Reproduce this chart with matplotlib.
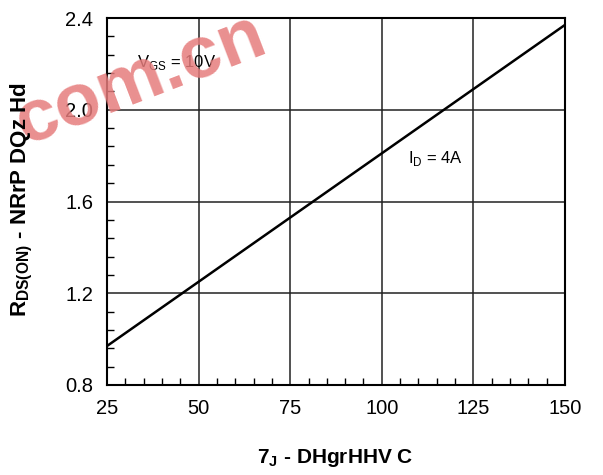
import matplotlib.pyplot as plt
from matplotlib.ticker import MultipleLocator

plt.rcParams['font.family'] = ['Liberation Sans', 'DejaVu Sans']

# data
temp_c = [25, 50, 75, 100, 125, 150]
rds_on = [0.97, 1.25, 1.53, 1.81, 2.09, 2.37]
x_ticks = [25, 50, 75, 100, 125, 150]
y_ticks = [0.8, 1.2, 1.6, 2.0, 2.4]

fig = plt.figure(figsize=(6.03, 4.75), dpi=100)
ax = fig.add_axes([107 / 603, 1 - 385 / 475, (565 - 107) / 603, (385 - 18) / 475])

ax.plot(temp_c, rds_on, color='black', lw=1.8, zorder=3)

ax.set_xlim(25, 150)
ax.set_ylim(0.8, 2.4)
ax.set_xticks(x_ticks)
ax.set_yticks(y_ticks)
ax.set_yticklabels([f'{v:.1f}' for v in y_ticks])
ax.xaxis.set_minor_locator(MultipleLocator(5))
ax.yaxis.set_minor_locator(MultipleLocator(0.08))
ax.tick_params(which='both', direction='in', top=False, right=False,
               labelsize=14.5, colors='black', pad=10)
ax.tick_params(which='major', length=0)
ax.tick_params(which='minor', length=5, width=1)
ax.grid(True, which='major', color='#222222', lw=1.1)
for sp in ax.spines.values():
    sp.set_linewidth(1.5)

ax.annotate(r'I$_{\mathregular{D}}$ = 4A', xy=(408, 475 - 163), xycoords='figure pixels',
            fontsize=12)
ax.annotate(r'V$_{\mathregular{GS}}$ = 10V', xy=(137, 475 - 67), xycoords='figure pixels',
            fontsize=12)

fig.text(335 / 603, 1 - 458 / 475, r'7$_{\mathregular{J}}$ - DHgrHHV C', ha='center', va='center',
         fontsize=15, fontweight='bold')
fig.text(22 / 603, 1 - 200 / 475, r'R$_{\mathregular{DS(ON)}}$ - NRrP DQz Hd', ha='center',
         va='center', rotation=90, fontsize=16, fontweight='bold')

# watermark
fig.text(140 / 603, 1 - 80 / 475, 'com.cn', fontsize=54, fontweight='bold', color='#e67c7c',
         rotation=21, rotation_mode='anchor', alpha=0.85, ha='center', va='center', zorder=0)

fig.savefig('out.png', dpi=100)
